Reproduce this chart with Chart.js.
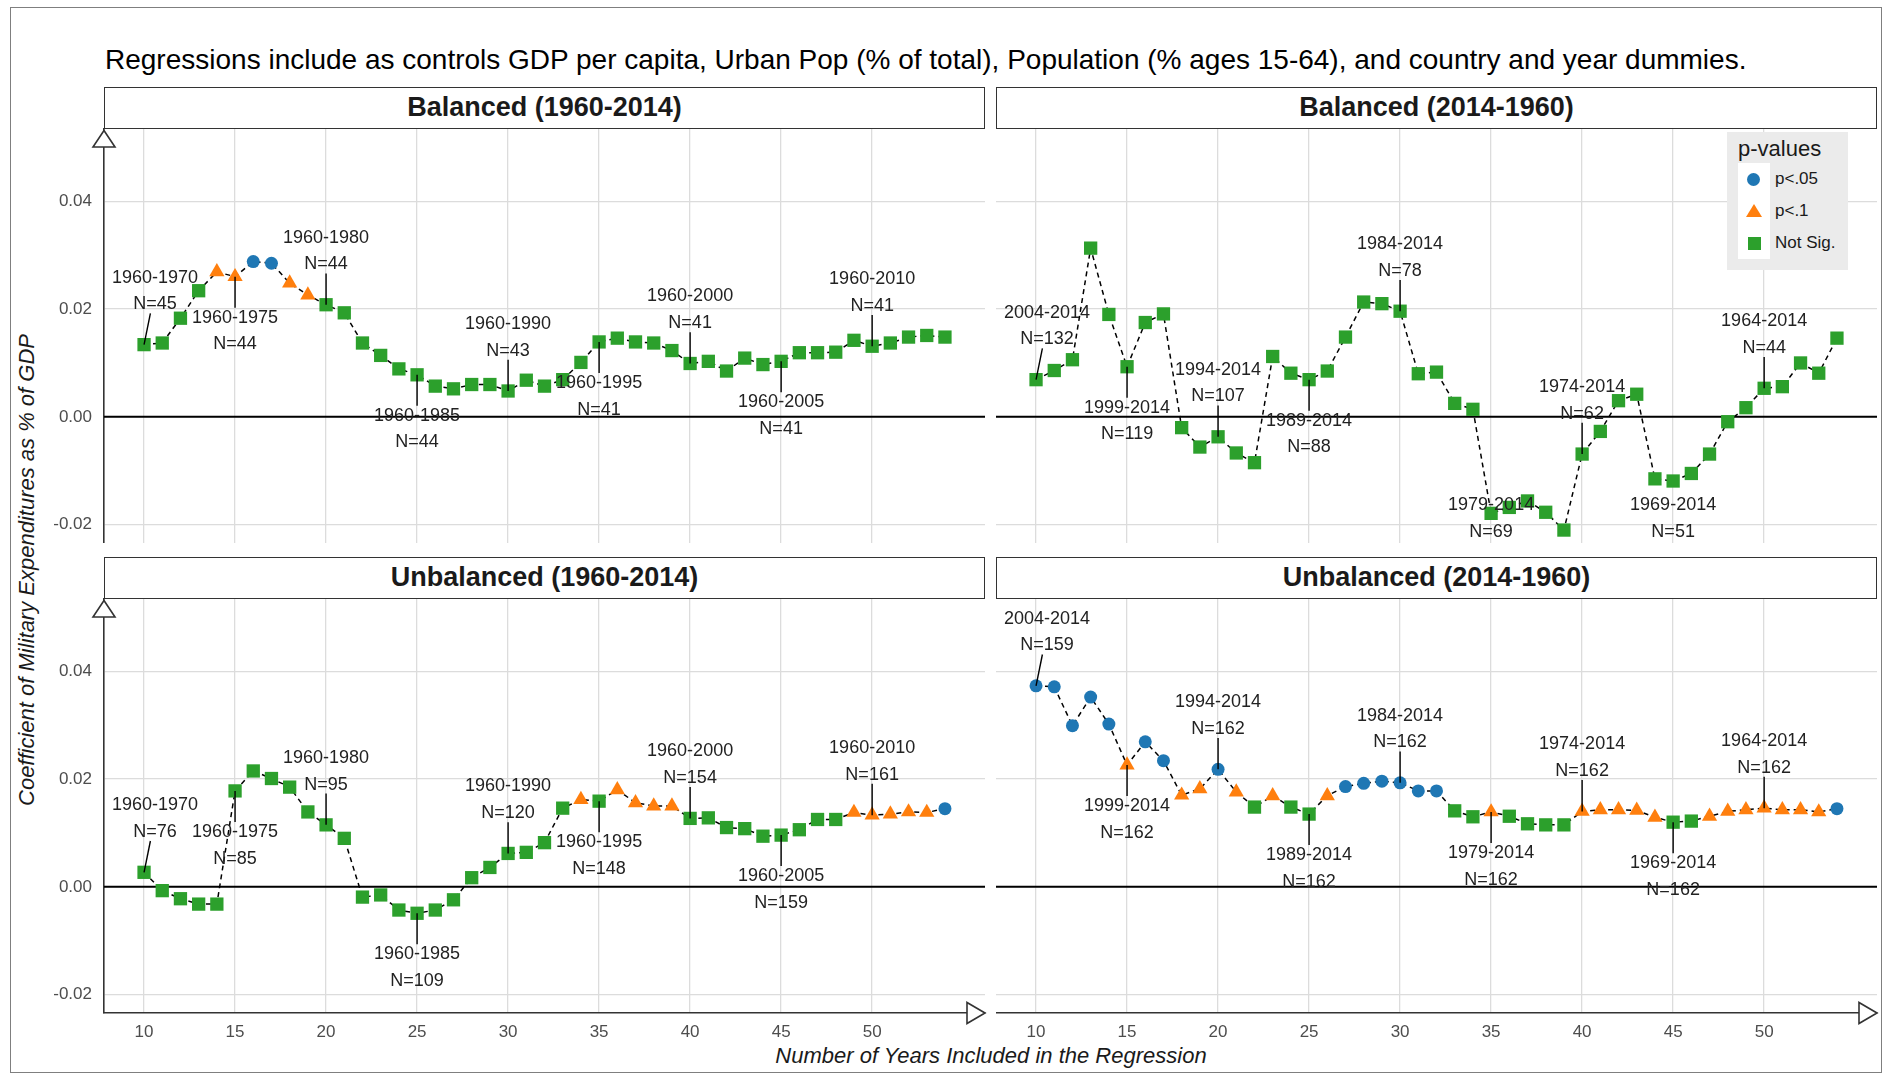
<!DOCTYPE html>
<html><head><meta charset="utf-8">
<script src="https://cdn.jsdelivr.net/npm/chart.js@4.4.1/dist/chart.umd.min.js"></script>
<style>
html,body{margin:0;padding:0;background:#fff;}
body{width:1891px;height:1075px;position:relative;overflow:hidden;font-family:"Liberation Sans",Arial,Helvetica,sans-serif;}
.abs{position:absolute;}
#frame{left:10px;top:7px;width:1872px;height:1066px;border:1.5px solid #7f7f7f;box-sizing:border-box;}
#title{left:105px;top:43px;font-size:28px;line-height:34px;color:#000;white-space:nowrap;}
.strip{position:absolute;box-sizing:border-box;border:1.5px solid #333;background:#fff;font-weight:bold;font-size:27px;color:#1a1a1a;text-align:center;white-space:nowrap;}
canvas{position:absolute;}
#ytitle{left:-373px;top:557px;width:800px;height:26px;line-height:26px;text-align:center;font-style:italic;font-size:22px;color:#1a1a1a;transform:rotate(-90deg);white-space:nowrap;}
#xtitle{left:591px;top:1043px;width:800px;line-height:26px;text-align:center;font-style:italic;font-size:22px;color:#1a1a1a;white-space:nowrap;}
#legend{left:1727px;top:132px;width:121px;height:138px;background:#ebebeb;}
#legend .lt{position:absolute;left:11px;top:4px;font-size:22px;line-height:26px;color:#1a1a1a;}
#legend .key{position:absolute;left:11px;width:32px;height:32px;background:#fff;}
#legend .lab{position:absolute;left:48px;font-size:17px;line-height:20px;color:#1a1a1a;white-space:nowrap;}
.ic{position:absolute;}
</style>
</head><body>
<div id="frame" class="abs"></div>
<div id="title" class="abs">Regressions include as controls GDP per capita, Urban Pop (% of total), Population (% ages 15-64), and country and year dummies.</div>
<div id="ytitle" class="abs">Coefficient of Military Expenditures as % of GDP</div>
<div id="xtitle" class="abs">Number of Years Included in the Regression</div>
<script>
// ---------------- DATA ----------------
const years = [10,11,12,13,14,15,16,17,18,19,20,21,22,23,24,25,26,27,28,29,30,31,32,33,34,35,36,37,38,39,40,41,42,43,44,45,46,47,48,49,50,51,52,53,54];

const xTicks = [10,15,20,25,30,35,40,45,50];
const xTickLabels = ['10','15','20','25','30','35','40','45','50'];
const yTicks = [-0.02,0,0.02,0.04];
const yTickLabels = ['-0.02','0.00','0.02','0.04'];

const panelTitles = ['Balanced (1960-2014)','Balanced (2014-1960)','Unbalanced (1960-2014)','Unbalanced (2014-1960)'];

// coefficients
const balancedFwd = [0.0134,0.0137,0.0183,0.0234,0.0269,0.0260,0.0288,0.0285,0.0248,0.0226,0.0208,0.0193,0.0137,0.0114,0.0089,0.0078,0.0057,0.0052,0.0060,0.0060,0.0048,0.0068,0.0057,0.0069,0.0101,0.0139,0.0146,0.0139,0.0137,0.0123,0.0099,0.0103,0.0085,0.0109,0.0097,0.0103,0.0119,0.0119,0.0120,0.0142,0.0131,0.0137,0.0148,0.0151,0.0148];
const balancedRev = [0.0069,0.0086,0.0106,0.0313,0.0190,0.0093,0.0175,0.0191,-0.0020,-0.0056,-0.0037,-0.0067,-0.0085,0.0112,0.0081,0.0069,0.0085,0.0148,0.0213,0.0210,0.0196,0.0080,0.0083,0.0025,0.0014,-0.0179,-0.0168,-0.0156,-0.0177,-0.0210,-0.0069,-0.0027,0.0030,0.0042,-0.0115,-0.0119,-0.0105,-0.0069,-0.0009,0.0017,0.0053,0.0056,0.0100,0.0081,0.0146];
const unbalancedFwd = [0.0027,-0.0007,-0.0022,-0.0032,-0.0032,0.0178,0.0215,0.0201,0.0185,0.0139,0.0115,0.0090,-0.0019,-0.0015,-0.0043,-0.0049,-0.0043,-0.0024,0.0017,0.0036,0.0062,0.0064,0.0082,0.0146,0.0162,0.0159,0.0180,0.0156,0.0150,0.0150,0.0127,0.0128,0.0110,0.0108,0.0094,0.0096,0.0106,0.0125,0.0125,0.0138,0.0133,0.0135,0.0139,0.0138,0.0145];
const unbalancedRev = [0.0373,0.0371,0.0299,0.0352,0.0302,0.0226,0.0269,0.0234,0.0170,0.0182,0.0218,0.0176,0.0148,0.0169,0.0148,0.0135,0.0169,0.0186,0.0192,0.0196,0.0193,0.0178,0.0178,0.0141,0.0130,0.0139,0.0131,0.0117,0.0115,0.0115,0.0140,0.0143,0.0143,0.0142,0.0129,0.0120,0.0122,0.0131,0.0140,0.0143,0.0146,0.0143,0.0143,0.0139,0.0145];

// significance: 2 = p<.05, 1 = p<.1, 0 = Not Sig.
const sigBalancedFwd = [0,0,0,0,1,1,2,2,1,1,0,0,0,0,0,0,0,0,0,0,0,0,0,0,0,0,0,0,0,0,0,0,0,0,0,0,0,0,0,0,0,0,0,0,0];
const sigBalancedRev = [0,0,0,0,0,0,0,0,0,0,0,0,0,0,0,0,0,0,0,0,0,0,0,0,0,0,0,0,0,0,0,0,0,0,0,0,0,0,0,0,0,0,0,0,0];
const sigUnbalancedFwd = [0,0,0,0,0,0,0,0,0,0,0,0,0,0,0,0,0,0,0,0,0,0,0,0,1,0,1,1,1,1,0,0,0,0,0,0,0,0,0,1,1,1,1,1,2];
const sigUnbalancedRev = [2,2,2,2,2,1,2,2,1,1,2,1,0,1,0,0,1,2,2,2,2,2,2,0,0,1,0,0,0,0,1,1,1,1,1,0,0,1,1,1,1,1,1,1,2];

const sigLabels = ['Not Sig.','p<.1','p<.05'];

// annotation labels (at years 10,15,...,50; alternately above / below)
const labelYears = [10,15,20,25,30,35,40,45,50];
const labelSide = ['up','down','up','down','up','down','up','down','up'];
const rangesFwd = ['1960-1970','1960-1975','1960-1980','1960-1985','1960-1990','1960-1995','1960-2000','1960-2005','1960-2010'];
const rangesRev = ['2004-2014','1999-2014','1994-2014','1989-2014','1984-2014','1979-2014','1974-2014','1969-2014','1964-2014'];
const nBalancedFwd = [45,44,44,44,43,41,41,41,41];
const nBalancedRev = [132,119,107,88,78,69,62,51,44];
const nUnbalancedFwd = [76,85,95,109,120,148,154,159,161];
const nUnbalancedRev = [159,162,162,162,162,162,162,162,162];

// ---------------- STYLE / LAYOUT ----------------
const FONT = '"Liberation Sans", Arial, Helvetica, sans-serif';
const COLORS = ['#2ca02c','#ff7f0e','#1f77b4'];
const STYLES = ['rect','triangle','circle'];
const RADII = [9.4,8.8,6.5];
const AREA_W = 881, AREA_H = 414, Y_W = 92, X_H = 42, PAD_T = 4, PAD_R = 5;
const X_MIN = 7.8, X_MAX = 56.2, Y_MIN = -0.0234, Y_MAX = 0.0534;

const panels = [
  {title: panelTitles[0], vals: balancedFwd, sig: sigBalancedFwd, ranges: rangesFwd, ns: nBalancedFwd, left: 104, top: 129, stripTop: 87, showY: true, showX: false},
  {title: panelTitles[1], vals: balancedRev, sig: sigBalancedRev, ranges: rangesRev, ns: nBalancedRev, left: 996, top: 129, stripTop: 87, showY: false, showX: false},
  {title: panelTitles[2], vals: unbalancedFwd, sig: sigUnbalancedFwd, ranges: rangesFwd, ns: nUnbalancedFwd, left: 104, top: 599, stripTop: 557, showY: true, showX: true},
  {title: panelTitles[3], vals: unbalancedRev, sig: sigUnbalancedRev, ranges: rangesRev, ns: nUnbalancedRev, left: 996, top: 599, stripTop: 557, showY: false, showX: true}
];

const annPlugin = {
  id: 'ann',
  beforeDatasetsDraw(chart) {
    const {ctx, chartArea: a, scales: {y}} = chart;
    const py = y.getPixelForValue(0);
    ctx.save();
    ctx.strokeStyle = '#000';
    ctx.lineWidth = 2;
    ctx.beginPath(); ctx.moveTo(a.left, py); ctx.lineTo(a.right, py); ctx.stroke();
    ctx.restore();
  },
  afterDatasetsDraw(chart) {
    const p = chart.options.plugins.ann;
    const {ctx, chartArea: a, scales: {x, y}} = chart;
    ctx.save();
    ctx.font = '18px ' + FONT;
    ctx.textAlign = 'center';
    ctx.textBaseline = 'middle';
    const LH = 26.7;
    labelYears.forEach((yr, i) => {
      const idx = years.indexOf(yr);
      const px = x.getPixelForValue(yr), py = y.getPixelForValue(p.vals[idx]);
      const t1 = p.ranges[i], t2 = 'N=' + p.ns[i];
      let l1 = labelSide[i] === 'up' ? py - 67 : py + 41;
      if (l1 - 11 < a.top) l1 = a.top + 11;
      if (l1 + LH + 11 > a.bottom) l1 = a.bottom - 11 - LH;
      const w = Math.max(ctx.measureText(t1).width, ctx.measureText(t2).width);
      let cx = px;
      if (cx - w / 2 < a.left + 8) cx = a.left + 8 + w / 2;
      if (cx + w / 2 > a.right - 8) cx = a.right - 8 - w / 2;
      const bt = l1 - 10, bb = l1 + LH + 9, bl = cx - w / 2 - 2, br = cx + w / 2 + 2;
      const cy = (bt + bb) / 2;
      let ty = 0, tx = 0;
      if (py < bt) ty = (bt - py) / (cy - py); else if (py > bb) ty = (bb - py) / (cy - py);
      if (px < bl) tx = (bl - px) / (cx - px); else if (px > br) tx = (br - px) / (cx - px);
      const t = Math.max(tx, ty);
      const ex = px + t * (cx - px), ey = py + t * (cy - py);
      if (Math.hypot(ex - px, ey - py) > 18) {
        ctx.strokeStyle = '#000';
        ctx.lineWidth = 1.4;
        ctx.beginPath(); ctx.moveTo(px, py); ctx.lineTo(ex, ey); ctx.stroke();
      }
      ctx.fillStyle = '#222';
      ctx.fillText(t1, cx, l1);
      ctx.fillText(t2, cx, l1 + LH);
    });
    ctx.restore();
  },
  afterDraw(chart) {
    const p = chart.options.plugins.ann;
    const {ctx, chartArea: a} = chart;
    ctx.save();
    ctx.fillStyle = '#fff';
    ctx.strokeStyle = '#333';
    ctx.lineWidth = 1.6;
    ctx.lineJoin = 'miter';
    if (p.showY) {
      ctx.beginPath();
      ctx.moveTo(a.left, a.top + 1.5);
      ctx.lineTo(a.left + 11, a.top + 18);
      ctx.lineTo(a.left - 11, a.top + 18);
      ctx.closePath(); ctx.fill(); ctx.stroke();
    }
    if (p.showX) {
      ctx.beginPath();
      ctx.moveTo(a.right, a.bottom);
      ctx.lineTo(a.right - 18, a.bottom - 10.5);
      ctx.lineTo(a.right - 18, a.bottom + 10.5);
      ctx.closePath(); ctx.fill(); ctx.stroke();
    }
    ctx.restore();
  }
};

panels.forEach((p, k) => {
  // strip
  const s = document.createElement('div');
  s.className = 'strip';
  s.style.left = p.left + 'px';
  s.style.top = p.stripTop + 'px';
  s.style.width = AREA_W + 'px';
  s.style.height = (p.top - p.stripTop) + 'px';
  s.style.lineHeight = (p.top - p.stripTop - 3) + 'px';
  s.textContent = p.title;
  document.body.appendChild(s);

  const yW = p.showY ? Y_W : 0;
  const xH = p.showX ? X_H : 0;
  const cv = document.createElement('canvas');
  const W = yW + AREA_W + PAD_R, H = PAD_T + AREA_H + xH;
  cv.width = W; cv.height = H;
  cv.style.width = W + 'px'; cv.style.height = H + 'px';
  cv.style.left = (p.left - yW) + 'px';
  cv.style.top = (p.top - PAD_T) + 'px';
  document.body.appendChild(cv);

  new Chart(cv.getContext('2d'), {
    type: 'line',
    data: {
      datasets: [{
        data: years.map((yr, i) => ({x: yr, y: p.vals[i]})),
        borderColor: '#000',
        borderWidth: 1.5,
        borderDash: [5, 4],
        fill: false,
        tension: 0,
        pointStyle: c => STYLES[p.sig[c.dataIndex]],
        pointRadius: c => RADII[p.sig[c.dataIndex]],
        pointHoverRadius: c => RADII[p.sig[c.dataIndex]],
        pointBackgroundColor: c => COLORS[p.sig[c.dataIndex]],
        pointBorderColor: c => COLORS[p.sig[c.dataIndex]],
        pointBorderWidth: 0
      }]
    },
    options: {
      responsive: false,
      animation: false,
      events: [],
      layout: {padding: {top: PAD_T, right: PAD_R, left: 0, bottom: 0}, autoPadding: false},
      plugins: {
        legend: {display: false},
        tooltip: {enabled: false},
        ann: {vals: p.vals, ranges: p.ranges, ns: p.ns, showY: p.showY, showX: p.showX}
      },
      scales: {
        x: {
          type: 'linear', min: X_MIN, max: X_MAX,
          afterBuildTicks: sc => { sc.ticks = xTicks.map(v => ({value: v})); },
          afterFit: sc => { sc.height = xH; sc.paddingLeft = 0; sc.paddingRight = 0; sc.paddingTop = 0; sc.paddingBottom = 0; },
          grid: {color: '#dcdcdc', lineWidth: 1.3, drawTicks: false},
          border: {display: p.showX, color: '#333', width: 1.6},
          ticks: {display: p.showX, padding: 9, color: '#4d4d4d', font: {family: FONT, size: 17}, maxRotation: 0,
                  callback: (v, i) => xTickLabels[i]}
        },
        y: {
          type: 'linear', min: Y_MIN, max: Y_MAX,
          afterBuildTicks: sc => { sc.ticks = yTicks.map(v => ({value: v})); },
          afterFit: sc => { sc.width = yW; sc.paddingLeft = 0; sc.paddingRight = 0; sc.paddingTop = 0; sc.paddingBottom = 0; },
          grid: {color: '#dcdcdc', lineWidth: 1.3, drawTicks: false},
          border: {display: p.showY, color: '#333', width: 1.6},
          ticks: {display: p.showY, padding: 12, color: '#4d4d4d', font: {family: FONT, size: 17},
                  callback: (v, i) => yTickLabels[i]}
        }
      }
    },
    plugins: [annPlugin]
  });
});

// legend (inside Balanced 2014-1960 panel)
(function () {
  const lg = document.createElement('div');
  lg.id = 'legend'; lg.className = 'abs';
  let html = '<div class="lt">p-values</div>';
  const order = [2, 1, 0];
  order.forEach((c, r) => {
    const top = 31 + r * 32;
    html += '<div class="key" style="top:' + top + 'px"></div>';
    let icon;
    if (c === 2) icon = '<div class="ic" style="left:20px;top:' + (top + 9.5) + 'px;width:13px;height:13px;border-radius:50%;background:' + COLORS[2] + '"></div>';
    else if (c === 1) icon = '<div class="ic" style="left:19px;top:' + (top + 9) + 'px;width:0;height:0;border-left:8px solid transparent;border-right:8px solid transparent;border-bottom:13px solid ' + COLORS[1] + '"></div>';
    else icon = '<div class="ic" style="left:20.5px;top:' + (top + 9.5) + 'px;width:13px;height:13px;background:' + COLORS[0] + '"></div>';
    html += icon;
    html += '<div class="lab" style="top:' + (top + 6) + 'px">' + sigLabels[c] + '</div>';
  });
  lg.innerHTML = html;
  document.body.appendChild(lg);
})();
</script>
</body></html>
